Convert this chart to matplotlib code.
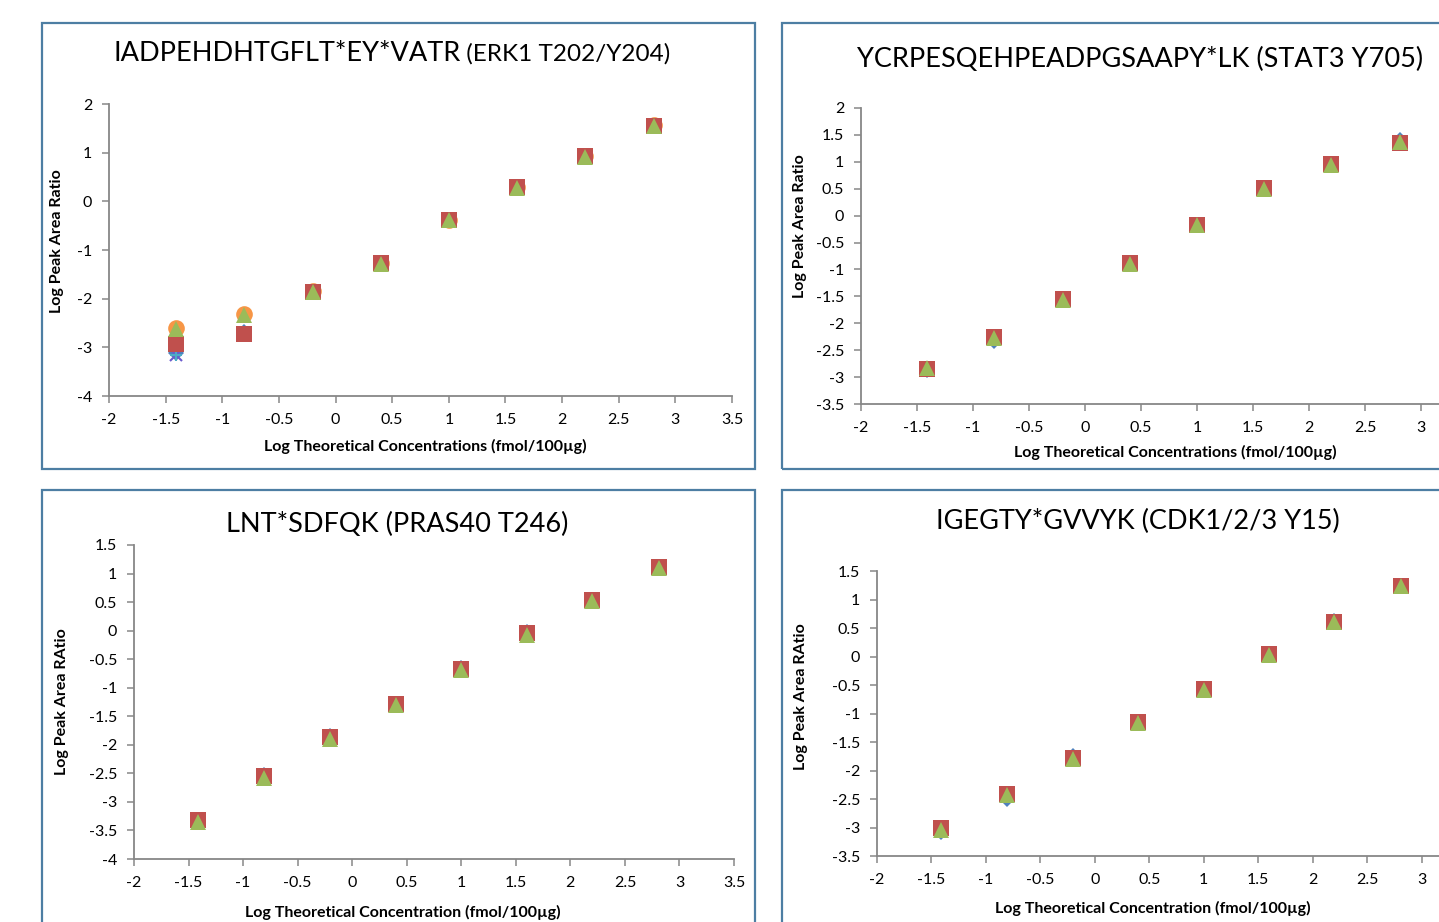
import matplotlib
matplotlib.use("Agg")
import matplotlib.pyplot as plt
from matplotlib.patches import Rectangle

plt.rcParams['font.family'] = ['Lato', 'DejaVu Sans']

W, H = 1439, 922

# shared x values (log10 of the spiked amounts)
log_conc = [-1.41, -0.81, -0.20, 0.40, 1.00, 1.60, 2.20, 2.81]

# ERK1 T202/Y204
erk_blue = [-3.12, -2.68, -1.86, -1.27, -0.38, 0.29, 0.93, 1.55]
erk_star = [-3.15, -2.70, -1.86, -1.27, -0.38, 0.29, 0.93, 1.55]
erk_orange = [-2.60, -2.31, -1.85, -1.27, -0.38, 0.29, 0.93, 1.56]
erk_red = [-2.93, -2.73, -1.86, -1.27, -0.38, 0.29, 0.93, 1.55]
erk_green = [-2.63, -2.34, -1.87, -1.28, -0.39, 0.28, 0.92, 1.55]

# STAT3 Y705
stat_blue = [-2.87, -2.33, -1.56, -0.88, -0.18, 0.50, 0.96, 1.41]
stat_red = [-2.85, -2.25, -1.55, -0.88, -0.17, 0.51, 0.96, 1.35]
stat_green = [-2.84, -2.27, -1.56, -0.89, -0.18, 0.50, 0.95, 1.36]

# PRAS40 T246
pras_blue = [-3.33, -2.52, -1.85, -1.28, -0.66, -0.03, 0.54, 1.12]
pras_red = [-3.31, -2.55, -1.87, -1.28, -0.67, -0.04, 0.54, 1.11]
pras_green = [-3.35, -2.58, -1.89, -1.30, -0.69, -0.07, 0.52, 1.10]

# CDK1/2/3 Y15
cdk_blue = [-3.08, -2.50, -1.75, -1.15, -0.58, 0.04, 0.62, 1.24]
cdk_red = [-3.00, -2.42, -1.78, -1.15, -0.57, 0.04, 0.61, 1.23]
cdk_green = [-3.05, -2.43, -1.79, -1.16, -0.58, 0.03, 0.60, 1.23]

x_ticks = [-2, -1.5, -1, -0.5, 0, 0.5, 1, 1.5, 2, 2.5, 3, 3.5]

BLUE = '#4f81bd'
RED = '#c0504d'
GREEN = '#9bbb59'
ORANGE = '#f79646'
LBLUE = '#4bacc6'
GRAY = '#878787'
BORDER = '#4d7ea3'

fig = plt.figure(figsize=(W / 100, H / 100), dpi=100)
fig.patch.set_facecolor('white')


def px_axes(left, top, right, bottom):
    return fig.add_axes([left / W, 1 - bottom / H, (right - left) / W, (bottom - top) / H])


def box(left, top, right, bottom):
    fig.patches.append(Rectangle((left / W, 1 - bottom / H), (right - left) / W, (bottom - top) / H,
                                 transform=fig.transFigure, fill=False, edgecolor=BORDER,
                                 linewidth=1.6, zorder=0))


def style(ax, ylim, yticks, xt, ylab, ylab_xy, xlab, xlab_xy):
    ax.set_xlim(-2, 3.5)
    ax.set_ylim(*ylim)
    ax.set_xticks(xt)
    ax.set_xticklabels(['%g' % v for v in xt])
    ax.set_yticks(yticks)
    ax.set_yticklabels(['%g' % v for v in yticks])
    for s in ['top', 'right']:
        ax.spines[s].set_visible(False)
    for s in ['left', 'bottom']:
        ax.spines[s].set_color(GRAY)
        ax.spines[s].set_linewidth(1.3)
    ax.tick_params(direction='out', length=5, width=1.1, color=GRAY, labelsize=11.5,
                   labelcolor='black', pad=7)
    ax.patch.set_alpha(0)
    fig.text(ylab_xy[0] / W, 1 - ylab_xy[1] / H, ylab, rotation=90, fontsize=11.5,
             fontweight='bold', ha='center', va='center')
    fig.text(xlab_xy[0] / W, 1 - xlab_xy[1] / H, xlab, fontsize=11.5,
             fontweight='bold', ha='center', va='center')


def pts(ax, y, marker, color, ms, z):
    ax.plot(log_conc, y, linestyle='none', marker=marker, color=color, markersize=ms,
            markeredgewidth=0, zorder=z, clip_on=False)


box(42, 23, 755, 469)
box(782, 23, 1460, 469)
box(42, 490, 755, 940)
box(782, 490, 1460, 940)

# top left
ax1 = px_axes(109, 104, 732, 396)
pts(ax1, erk_blue, 'D', BLUE, 8, 3)
ax1.plot(log_conc, erk_star, linestyle='none', marker='x', color='#6a5acd', markersize=8,
         markeredgewidth=1.5, zorder=3)
ax1.plot(log_conc, erk_star, linestyle='none', marker='+', color=LBLUE, markersize=9,
         markeredgewidth=1.5, zorder=3)
pts(ax1, erk_orange, 'o', ORANGE, 12, 4)
pts(ax1, erk_red, 's', RED, 11, 5)
pts(ax1, erk_green, '^', GREEN, 11, 6)
style(ax1, (-4, 2), [-4, -3, -2, -1, 0, 1, 2], x_ticks,
      'Log Peak Area Ratio', (57, 241),
      'Log Theoretical Concentrations (fmol/100µg)', (425, 446))

# top right
ax2 = px_axes(861, 108, 1477, 404)
pts(ax2, stat_blue, 'D', BLUE, 8, 3)
pts(ax2, stat_red, 's', RED, 11, 5)
pts(ax2, stat_green, '^', GREEN, 11, 6)
style(ax2, (-3.5, 2), [-3.5, -3, -2.5, -2, -1.5, -1, -0.5, 0, 0.5, 1, 1.5, 2], x_ticks[:-1],
      'Log Peak Area Ratio', (800, 226),
      'Log Theoretical Concentrations (fmol/100µg)', (1175, 452))

# bottom left
ax3 = px_axes(134, 545, 734, 859)
pts(ax3, pras_blue, 'D', BLUE, 8, 3)
pts(ax3, pras_red, 's', RED, 11, 5)
pts(ax3, pras_green, '^', GREEN, 11, 6)
style(ax3, (-4, 1.5), [-4, -3.5, -3, -2.5, -2, -1.5, -1, -0.5, 0, 0.5, 1, 1.5], x_ticks,
      'Log Peak Area RAtio', (62, 702),
      'Log Theoretical Concentration (fmol/100µg)', (403, 912))

# bottom right
ax4 = px_axes(877, 571, 1476, 856)
pts(ax4, cdk_blue, 'D', BLUE, 8, 3)
pts(ax4, cdk_red, 's', RED, 11, 5)
pts(ax4, cdk_green, '^', GREEN, 11, 6)
style(ax4, (-3.5, 1.5), [-3.5, -3, -2.5, -2, -1.5, -1, -0.5, 0, 0.5, 1, 1.5], x_ticks[:-1],
      'Log Peak Area RAtio', (801, 697),
      'Log Theoretical Concentration (fmol/100µg)', (1153, 908))

# titles
t1 = fig.text(113 / W, 1 - 61 / H, 'IADPEHDHTGFLT*EY*VATR', fontsize=19.5, ha='left', va='baseline')
fig.text(1140 / W, 1 - 67 / H, 'YCRPESQEHPEADPGSAAPY*LK (STAT3 Y705)', fontsize=19.5,
         ha='center', va='baseline')
fig.text(397 / W, 1 - 532 / H, 'LNT*SDFQK (PRAS40 T246)', fontsize=19.5, ha='center', va='baseline')
fig.text(1138 / W, 1 - 529 / H, 'IGEGTY*GVVYK (CDK1/2/3 Y15)', fontsize=19.5, ha='center',
         va='baseline')

fig.canvas.draw()
bb = t1.get_window_extent(renderer=fig.canvas.get_renderer())
fig.text(bb.x1 / W, 1 - 61 / H, ' (ERK1 T202/Y204)', fontsize=17.5, ha='left', va='baseline')

fig.savefig('out.png', dpi=100)
